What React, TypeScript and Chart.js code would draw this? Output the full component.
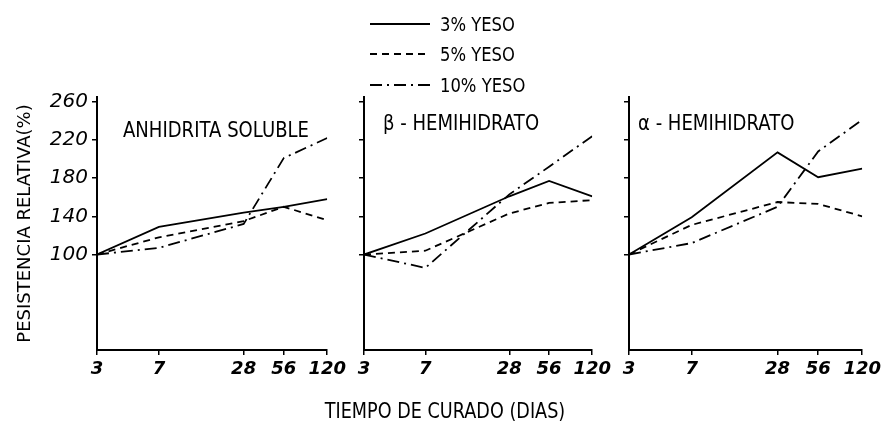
import React, { useEffect, useRef } from "react";
import { Chart, registerables, LinearScale } from "chart.js";

// Time axis of the original is a log-like scale on (days - 1)
class ShiftedLogScale extends (LinearScale as any) {
  static id = "shiftedLog";
  static defaults = (LinearScale as any).defaults;
  _tmin = 0;
  _tmax = 1;
  configure() {
    super.configure();
    this._tmin = Math.log10(this.min - 1);
    this._tmax = Math.log10(this.max - 1);
  }
  getPixelForValue(value: number) {
    if (value === null || value === undefined) return NaN;
    const t = Math.log10(value - 1);
    return this.getPixelForDecimal((t - this._tmin) / (this._tmax - this._tmin));
  }
  getValueForPixel(pixel: number) {
    const d = this.getDecimalForPixel(pixel);
    return 1 + Math.pow(10, this._tmin + d * (this._tmax - this._tmin));
  }
}

Chart.register(...registerables, ShiftedLogScale as any);

// ---------- data ----------
const DAYS = [3, 7, 28, 56, 120];
const Y_TICKS = [100, 140, 180, 220, 260];
const SERIES_NAMES = ["3% YESO", "5% YESO", "10% YESO"];
const PANEL_TITLES = ["ANHIDRITA SOLUBLE", "β - HEMIHIDRATO", "α - HEMIHIDRATO"];
const X_TITLE = "TIEMPO DE CURADO (DIAS)";
const Y_TITLE = "PESISTENCIA RELATIVA(%)";

const ANHIDRITA_3 = [100, 129, 144, 150, 158];
const ANHIDRITA_5 = [100, 118, 135, 150, 136];
const ANHIDRITA_10 = [100, 107, 132, 201, 222];

const BETA_3 = [100, 122, 161, 177, 161];
const BETA_5 = [100, 104, 143, 154, 157];
const BETA_10 = [100, 86, 163, 192, 224];

const ALFA_3 = [100, 139, 207, 181, 190];
const ALFA_5 = [100, 131, 155, 153, 140];
const ALFA_10 = [100, 112, 150, 208, 241];

// ---------- styles ----------
const SANS = '"DejaVu Sans", sans-serif';
const DASHES = [[], [7, 5], [12, 5, 2, 5]];

type PanelSpec = {
  series: number[][];
  left: number;
  width: number;
  yWidth: number;
  padRight: number;
  showY: boolean;
};

const PANELS: PanelSpec[] = [
  { series: [ANHIDRITA_3, ANHIDRITA_5, ANHIDRITA_10], left: 0, width: 350, yWidth: 97, padRight: 17, showY: true },
  { series: [BETA_3, BETA_5, BETA_10], left: 340, width: 275, yWidth: 24, padRight: 15, showY: false },
  { series: [ALFA_3, ALFA_5, ALFA_10], left: 605, width: 280, yWidth: 24, padRight: 20, showY: false },
];

function Panel({ spec }: { spec: PanelSpec }) {
  const ref = useRef<HTMLCanvasElement | null>(null);
  useEffect(() => {
    if (!ref.current) return;
    const datasets = spec.series.map((vals, i) => ({
      label: SERIES_NAMES[i],
      data: DAYS.map((d, j) => ({ x: d, y: vals[j] })),
      borderColor: "#000",
      backgroundColor: "#000",
      borderWidth: 1.8,
      borderDash: DASHES[i],
      pointRadius: 0,
      tension: 0,
      fill: false,
    }));
    const chart = new Chart(ref.current, {
      type: "line",
      data: { datasets },
      options: {
        animation: false,
        responsive: false,
        maintainAspectRatio: false,
        layout: { padding: { top: 97, right: spec.padRight, bottom: 34, left: 0 }, autoPadding: false },
        plugins: { legend: { display: false }, tooltip: { enabled: false }, title: { display: false } },
        scales: {
          x: {
            type: "shiftedLog",
            min: 3,
            max: 120,
            afterBuildTicks: (s: any) => {
              s.ticks = DAYS.map((v) => ({ value: v }));
            },
            afterFit: (s: any) => {
              s.height = 40;
            },
            ticks: {
              callback: (v: any) => String(v),
              color: "#000",
              padding: 4,
              maxRotation: 0,
              autoSkip: false,
              font: { family: SANS, size: 18, style: "italic", weight: "bold" },
            },
            grid: { display: true, drawOnChartArea: false, drawTicks: true, tickLength: 5, color: "#000", lineWidth: 1.5 },
            border: { display: true, color: "#000", width: 2 },
          },
          y: {
            type: "linear",
            min: 0,
            max: 265,
            afterBuildTicks: (s: any) => {
              s.ticks = Y_TICKS.map((v) => ({ value: v }));
            },
            afterFit: (s: any) => {
              s.width = spec.yWidth;
            },
            ticks: {
              display: spec.showY,
              callback: (v: any) => String(v),
              color: "#000",
              padding: 4,
              font: { family: SANS, size: 20, style: "italic" },
            },
            title: {
              display: spec.showY,
              text: Y_TITLE,
              color: "#000",
              padding: { top: 15, bottom: 0 },
              font: { family: SANS, size: 18 },
            },
            grid: { display: true, drawOnChartArea: false, drawTicks: true, tickLength: 5, color: "#000", lineWidth: 1.5 },
            border: { display: true, color: "#000", width: 2 },
          },
        },
      } as any,
    });
    return () => chart.destroy();
  }, [spec]);
  return (
    <canvas
      ref={ref}
      width={spec.width}
      height={424}
      style={{ position: "absolute", left: spec.left, top: 0, width: spec.width, height: 424 }}
    />
  );
}

const TITLE_POS = [
  { left: 123, top: 118 },
  { left: 383, top: 111 },
  { left: 638, top: 111 },
];

const LEGEND_Y = [24, 54, 85];

export default function App() {
  return (
    <div
      style={{
        position: "fixed",
        left: 0,
        top: 0,
        width: 885,
        height: 424,
        background: "#fff",
        overflow: "hidden",
      }}
    >
      {PANELS.map((p, i) => (
        <Panel key={i} spec={p} />
      ))}
      {PANEL_TITLES.map((t, i) => (
        <div
          key={t}
          style={{
            position: "absolute",
            left: TITLE_POS[i].left,
            top: TITLE_POS[i].top,
            fontFamily: SANS,
            fontSize: 22,
            lineHeight: "24px",
            color: "#000",
            whiteSpace: "nowrap",
            transform: "scaleX(0.82)",
            transformOrigin: "left center",
          }}
        >
          {t}
        </div>
      ))}
      {SERIES_NAMES.map((n, i) => (
        <div
          key={n}
          style={{ position: "absolute", left: 370, top: LEGEND_Y[i] - 11, height: 22, display: "flex", alignItems: "center" }}
        >
          <svg width={60} height={22} style={{ display: "block" }}>
            <line
              x1={0}
              y1={11}
              x2={60}
              y2={11}
              stroke="#000"
              strokeWidth={1.8}
              strokeDasharray={DASHES[i].length ? DASHES[i].join(",") : undefined}
            />
          </svg>
          <span
            style={{
              marginLeft: 10,
              fontFamily: SANS,
              fontSize: 20,
              lineHeight: "22px",
              color: "#000",
              whiteSpace: "nowrap",
              display: "inline-block",
              transform: "scaleX(0.82)",
              transformOrigin: "left center",
            }}
          >
            {n}
          </span>
        </div>
      ))}
      <div
        style={{
          position: "absolute",
          left: 0,
          width: 890,
          top: 400,
          textAlign: "center",
          fontFamily: SANS,
          fontSize: 21,
          lineHeight: "22px",
          color: "#000",
          whiteSpace: "nowrap",
          transform: "scaleX(0.84)",
          transformOrigin: "445px center",
        }}
      >
        {X_TITLE}
      </div>
    </div>
  );
}
